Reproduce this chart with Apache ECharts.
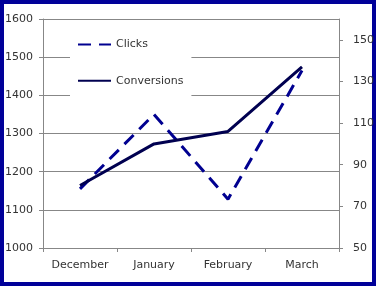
<!DOCTYPE html>
<html><head><meta charset="utf-8">
<script src="https://cdn.jsdelivr.net/npm/echarts@6/dist/echarts.min.js"></script>
<style>
html,body{margin:0;padding:0;background:#fff;}
#frame{position:absolute;left:0;top:0;width:368px;height:278px;border:4px solid #000099;}
#c{position:absolute;left:0;top:0;width:380px;height:289px;}
</style></head>
<body>
<div id="frame"></div>
<div id="c"></div>
<script>
const categories = ['December', 'January', 'February', 'March'];
const clicks = [1155, 1350, 1128, 1465];
const conversions = [80, 100, 106, 137];
const leftTicks = [1000, 1100, 1200, 1300, 1400, 1500, 1600];
const rightTicks = [50, 70, 90, 110, 130, 150];

const gray = '#878787';
const txt = '#333333';
const font = 'DejaVu Sans';
const chart = echarts.init(document.getElementById('c'), null, {renderer: 'canvas'});
chart.setOption({
  animation: false,
  grid: {left: 43, right: 41, top: 19, bottom: 41, containLabel: false},
  legend: {
    orient: 'vertical', left: 70, top: 31,
    padding: [8, 8, 18, 7], itemGap: 25, itemWidth: 33, itemHeight: 14,
    backgroundColor: '#ffffff',
    itemStyle: {opacity: 0},
    textStyle: {color: txt, fontFamily: font, fontSize: 11},
    data: ['Clicks', 'Conversions']
  },
  xAxis: {
    type: 'category', data: categories, boundaryGap: true,
    axisLine: {lineStyle: {color: gray, width: 1}},
    axisTick: {show: true, length: 4, lineStyle: {color: gray}},
    axisLabel: {color: txt, fontFamily: font, fontSize: 11, margin: 12, interval: 0}
  },
  yAxis: [{
    type: 'value', min: 1000, max: 1600, interval: 100, position: 'left',
    axisLine: {show: true, lineStyle: {color: gray}},
    axisTick: {show: true, length: 4, lineStyle: {color: gray}},
    axisLabel: {color: txt, fontFamily: font, fontSize: 11, margin: 10,
      customValues: leftTicks, formatter: v => String(v)},
    splitLine: {show: true, lineStyle: {color: gray, width: 1}}
  }, {
    type: 'value', min: 50, max: 160, position: 'right',
    axisLine: {show: true, lineStyle: {color: gray}},
    axisTick: {show: true, length: 4, lineStyle: {color: gray}, customValues: rightTicks},
    axisLabel: {color: txt, fontFamily: font, fontSize: 11, margin: 14,
      customValues: rightTicks, formatter: v => String(v)},
    splitLine: {show: false}
  }],
  series: [{
    name: 'Clicks', type: 'line', data: clicks, yAxisIndex: 0,
    symbol: 'none', smooth: false,
    itemStyle: {color: '#000090'},
    lineStyle: {color: '#000090', width: 3, type: [13, 8], cap: 'butt'}
  }, {
    name: 'Conversions', type: 'line', data: conversions, yAxisIndex: 1,
    symbol: 'none', smooth: false,
    itemStyle: {color: '#000050'},
    lineStyle: {color: '#000050', width: 3, type: 'solid'}
  }]
});
</script>
</body></html>
